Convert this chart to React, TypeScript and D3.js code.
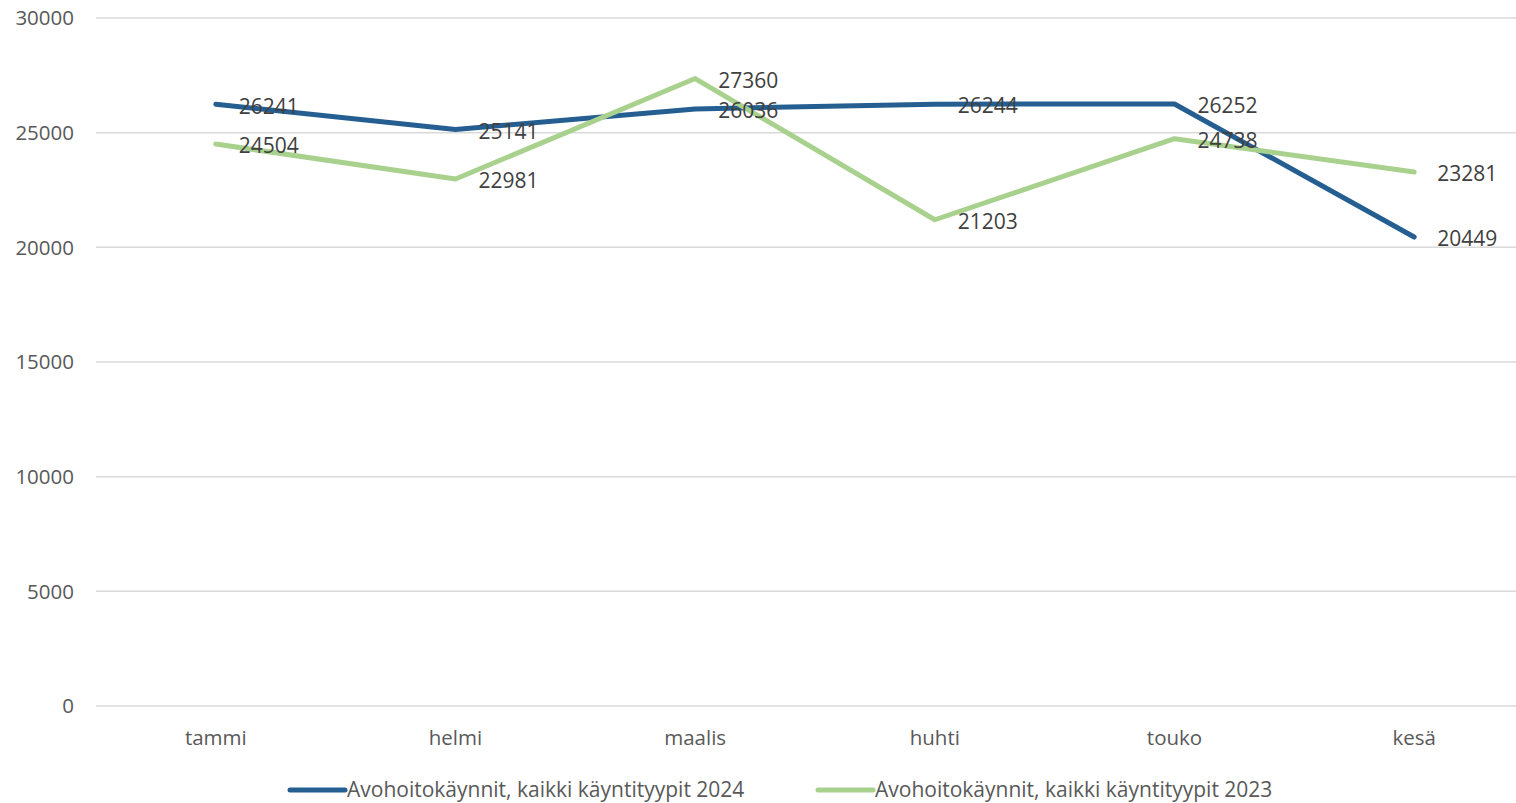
import React from "react";
import * as d3 from "d3";

const categories = ["tammi", "helmi", "maalis", "huhti", "touko", "kesä"];
const series2024 = [26241, 25141, 26036, 26244, 26252, 20449];
const series2023 = [24504, 22981, 27360, 21203, 24738, 23281];
const seriesNames = ["Avohoitokäynnit, kaikki käyntityypit 2024", "Avohoitokäynnit, kaikki käyntityypit 2023"];
const yTicks = [0, 5000, 10000, 15000, 20000, 25000, 30000];

const W = 1516, H = 803;
const FONT = "'Open Sans', 'Liberation Sans', sans-serif";

export default function App() {
  const x = d3.scaleBand<string>().domain(categories).range([96, 1534]);
  const y = d3.scaleLinear().domain([0, 30000]).range([706, 18]);
  const cx = (c: string) => (x(c) as number) + x.bandwidth() / 2;
  const line = d3.line<number>().x((_, i) => cx(categories[i])).y((v) => y(v));
  const series = [
    { name: seriesNames[0], data: series2024, color: "#255E91" },
    { name: seriesNames[1], data: series2023, color: "#A9D18E" },
  ];
  return (
    <svg width={W} height={H} style={{ position: "absolute", left: 0, top: 0, fontFamily: FONT }}>
      <rect width={W} height={H} fill="#fff" />
      {yTicks.map((t) => (
        <g key={t}>
          <line x1={96} x2={1516} y1={y(t)} y2={y(t)} stroke="#d9d9d9" strokeWidth={1.5} />
          <text x={74} y={y(t)} dy="0.35em" textAnchor="end" fontSize={20.5} fill="#595959">{t}</text>
        </g>
      ))}
      {categories.map((c) => (
        <text key={c} x={cx(c)} y={745} textAnchor="middle" fontSize={20.5} fill="#595959">{c}</text>
      ))}
      {series.map((s) => (
        <path key={s.name} d={line(s.data) as string} fill="none" stroke={s.color} strokeWidth={5} strokeLinecap="round" strokeLinejoin="round" />
      ))}
      {series.map((s) =>
        s.data.map((v, i) => (
          <text key={s.name + i} x={cx(categories[i]) + 23} y={y(v) + 2} dy="0.35em" fontSize={21} fill="#404040">{v}</text>
        ))
      )}
      {series.map((s, i) => {
        const lx = i === 0 ? 290 : 818;
        return (
          <g key={"lg" + i}>
            <line x1={lx} x2={lx + 55} y1={790} y2={790} stroke={s.color} strokeWidth={5} strokeLinecap="round" />
            <text x={lx + 57} y={790} dy="0.35em" fontSize={21} fill="#595959">{s.name}</text>
          </g>
        );
      })}
    </svg>
  );
}
